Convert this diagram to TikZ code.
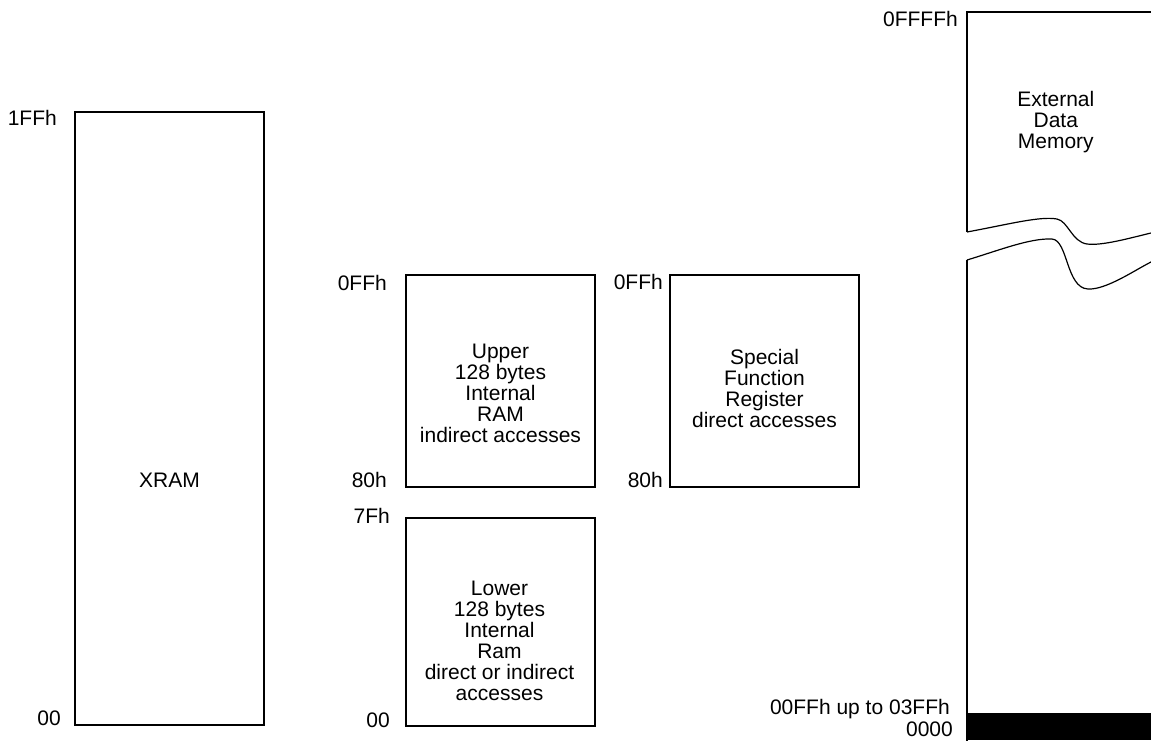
\documentclass[tikz,border=0pt]{standalone}
\usepackage{fontspec}
\setmainfont{Liberation Sans}
\begin{document}
\begin{tikzpicture}[x=1pt,y=-1pt,
  every node/.style={font=\fontsize{21}{21}\selectfont},
  membox/.style={draw,line width=1.8pt,rectangle,inner sep=0pt},
  boxtext/.style={align=center,anchor=north,inner sep=0pt},
  addr/.style={anchor=base east,inner sep=0pt},
  brk/.style={line width=1.2pt}]
\useasboundingbox (0,0) rectangle (1151,740);
% memory boxes
\node[membox,minimum width=189pt,minimum height=613pt] (xram) at (169.5,418.5) {};
\node[membox,minimum width=189pt,minimum height=212pt] (upper) at (500.5,381) {};
\node[membox,minimum width=189pt,minimum height=208pt] (lower) at (500.5,622) {};
\node[membox,minimum width=189pt,minimum height=212pt] (sfr) at (764.5,381) {};
% box texts
\node[anchor=base,inner sep=0pt] (xramt) at (169.5,487) {XRAM};
\node[boxtext] (uppert) at (500.5,343.5) {Upper\\128 bytes\\Internal\\RAM\\indirect accesses};
\node[boxtext] (lowert) at (499.5,580.5) {Lower\\128 bytes\\Internal\\Ram\\direct or indirect\\accesses};
\node[boxtext] (sfrt) at (764.5,349.5) {Special\\Function\\Register\\direct accesses};
\node[boxtext] (extt) at (1055.8,91.5) {External\\Data\\Memory};
% address labels
\node[addr] (a1) at (57,125) {1FFh};
\node[addr] (a2) at (61,725) {00};
\node[addr] (a3) at (387,290) {0FFh};
\node[addr] (a4) at (387,487) {80h};
\node[addr] (a5) at (390,523) {7Fh};
\node[addr] (a6) at (390,727) {00};
\node[addr] (a7) at (663,289) {0FFh};
\node[addr] (a8) at (663,487) {80h};
\node[addr] (a9) at (958,26) {0FFFFh};
\node[addr] (a10) at (950,714) {00FFh up to 03FFh};
\node[addr] (a11) at (953,736) {0000};
% external data memory (broken box)
\coordinate (eu) at (967,232);
\coordinate (el) at (967,260);
\draw[line width=1.8pt] (eu) -- (967,12) -- (1152,12);
\draw[line width=1.8pt] (el) -- (967,741);
\draw[brk] (eu) .. controls (1010,224) and (1040,216) .. (1057,219)
  .. controls (1068,221) and (1072,242) .. (1087,244)
  .. controls (1102,246) and (1130,238) .. (1151,233);
\draw[brk] (el) .. controls (1000,250) and (1030,238) .. (1052,239)
  .. controls (1068,240) and (1066,288) .. (1088,289)
  .. controls (1106,290) and (1135,270) .. (1151,262);
\fill (966,713) rectangle (1151,740);
\end{tikzpicture}
\end{document}
